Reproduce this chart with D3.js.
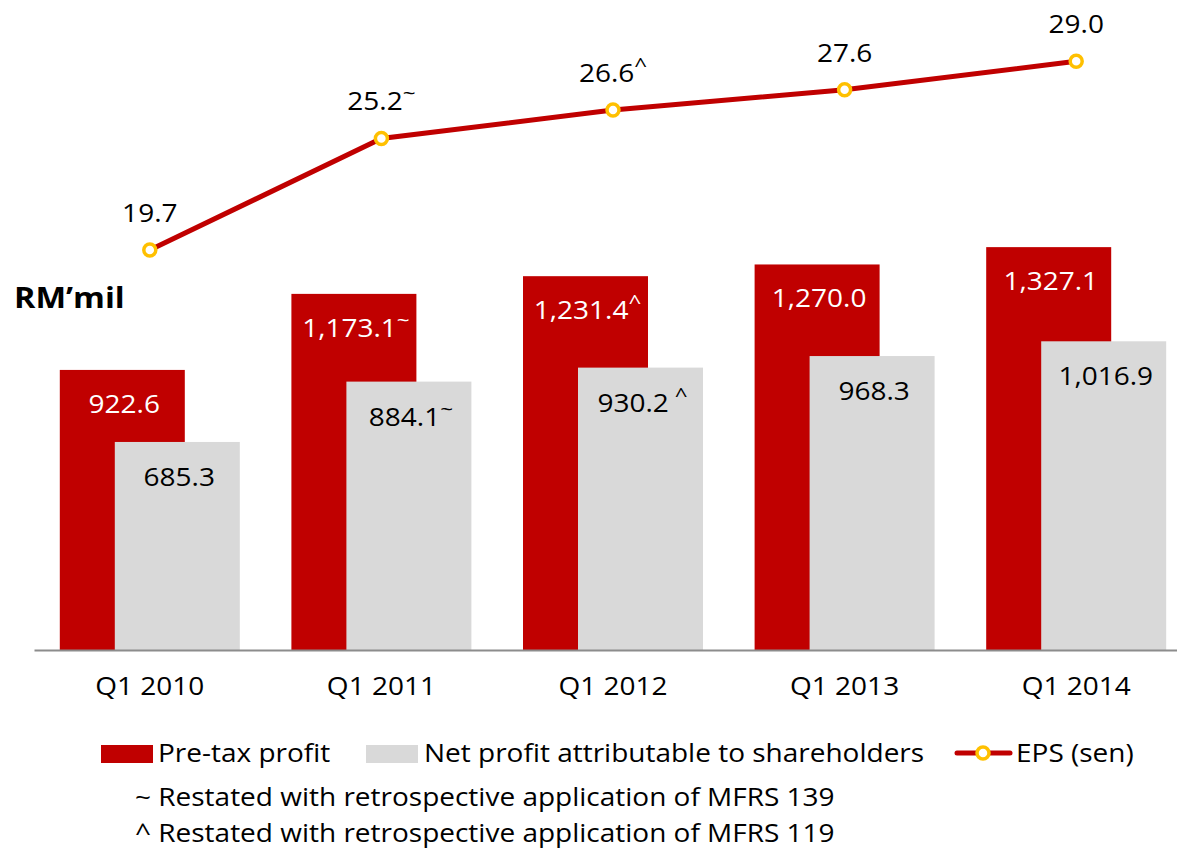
<!DOCTYPE html>
<html>
<head>
<meta charset="utf-8">
<script src="https://cdn.jsdelivr.net/npm/d3@7"></script>
<style>
  body { margin: 0; background: #fff; }
  svg { display: block; font-family: "Open Sans", sans-serif; }
</style>
</head>
<body>
<svg id="chart" width="1177" height="849"></svg>
<script>
const categories = ["Q1 2010", "Q1 2011", "Q1 2012", "Q1 2013", "Q1 2014"];
const preTax = [922.6, 1173.1, 1231.4, 1270.0, 1327.1];
const netProfit = [685.3, 884.1, 930.2, 968.3, 1016.9];
const eps = [19.7, 25.2, 26.6, 27.6, 29.0];
// footnote markers per point
const preTaxMark = ["", "~", "^", "", ""];
const netMark = ["", "~", " ^", "", ""];
const epsMark = ["", "~", "^", "", ""];

const red = "#C00000", grey = "#D9D9D9", gold = "#FFC000";
const SX = 1.12; // text in the original is a bit stretched sideways

const svg = d3.select("#chart");
const baseY = 650;

const x = d3.scaleBand().domain(categories).range([34, 1192]).padding(0);
const y = d3.scaleLinear().domain([0, 1400]).range([baseY, 225]);
const yEps = d3.scaleLinear().domain([0, 30]).range([baseY, 41]);

const barW = 125, offset = 55;
const cx = c => x(c) + x.bandwidth() / 2;

function label(parent, px, py, txt, mark, opts) {
  const t = parent.append("text")
    .attr("transform", `translate(${px},${py}) scale(${SX},1)`)
    .attr("text-anchor", opts.anchor || "middle")
    .attr("font-size", opts.size || 25)
    .attr("font-weight", opts.weight || "normal")
    .attr("fill", opts.fill || "#000");
  t.append("tspan").text(txt);
  if (mark) {
    t.append("tspan")
      .attr("dy", -10)
      .attr("font-size", 0.8 * (opts.size || 25))
      .text(mark);
  }
  return t;
}

// bars
const groups = svg.append("g").selectAll("g")
  .data(categories).join("g");

groups.append("rect")
  .attr("x", c => cx(c) - 90)
  .attr("y", (c, i) => y(preTax[i]))
  .attr("width", barW)
  .attr("height", (c, i) => baseY - y(preTax[i]))
  .attr("fill", red);

groups.append("rect")
  .attr("x", c => cx(c) - 90 + offset)
  .attr("y", (c, i) => y(netProfit[i]))
  .attr("width", barW)
  .attr("height", (c, i) => baseY - y(netProfit[i]))
  .attr("fill", grey);

const fmt = d3.format(",.1f");
categories.forEach((c, i) => {
  label(svg, cx(c) - 90 + barW / 2 + 2, y(preTax[i]) + 43, fmt(preTax[i]), preTaxMark[i], { fill: "#fff" });
  label(svg, cx(c) - 90 + offset + barW / 2 + 2, y(netProfit[i]) + 44, fmt(netProfit[i]), netMark[i], {});
});

// axis
const axis = svg.append("g")
  .attr("transform", `translate(0,${baseY})`)
  .call(d3.axisBottom(x).tickSize(0).tickPadding(27));
axis.select(".domain").attr("stroke", "#8c8c8c").attr("stroke-width", 2);
axis.selectAll("text")
  .attr("font-family", "Open Sans, sans-serif")
  .attr("font-size", 25)
  .attr("fill", "#000")
  .attr("transform", `scale(${SX},1)`);

// EPS line
const line = d3.line().x((d, i) => cx(categories[i])).y(d => yEps(d));
svg.append("path")
  .datum(eps)
  .attr("d", line)
  .attr("fill", "none")
  .attr("stroke", red)
  .attr("stroke-width", 5);

svg.append("g").selectAll("circle")
  .data(eps).join("circle")
  .attr("cx", (d, i) => cx(categories[i]))
  .attr("cy", d => yEps(d))
  .attr("r", 6)
  .attr("fill", "#fff")
  .attr("stroke", gold)
  .attr("stroke-width", 3.5);

eps.forEach((d, i) => {
  label(svg, cx(categories[i]), yEps(d) - 28, d.toFixed(1), epsMark[i], {});
});

// unit label
label(svg, 14, 308, "RM\u2019mil", "", { anchor: "start", size: 29, weight: "bold" });

// legend
const lg = svg.append("g");
lg.append("rect").attr("x", 101).attr("y", 745).attr("width", 52).attr("height", 18).attr("fill", red);
label(lg, 158, 762, "Pre-tax profit", "", { anchor: "start", size: 25 });
lg.append("rect").attr("x", 366).attr("y", 745).attr("width", 52).attr("height", 18).attr("fill", grey);
label(lg, 424, 762, "Net profit attributable to shareholders", "", { anchor: "start", size: 25 });
lg.append("line").attr("x1", 957).attr("x2", 1010).attr("y1", 753).attr("y2", 753)
  .attr("stroke", red).attr("stroke-width", 5).attr("stroke-linecap", "round");
lg.append("circle").attr("cx", 983).attr("cy", 753).attr("r", 6)
  .attr("fill", "#fff").attr("stroke", gold).attr("stroke-width", 3.5);
label(lg, 1016, 762, "EPS (sen)", "", { anchor: "start", size: 25 });

// footnotes
label(svg, 135, 806, "~ Restated with retrospective application of MFRS 139", "", { anchor: "start", size: 25 });
label(svg, 135, 842, "^ Restated with retrospective application of MFRS 119", "", { anchor: "start", size: 25 });
</script>
</body>
</html>
